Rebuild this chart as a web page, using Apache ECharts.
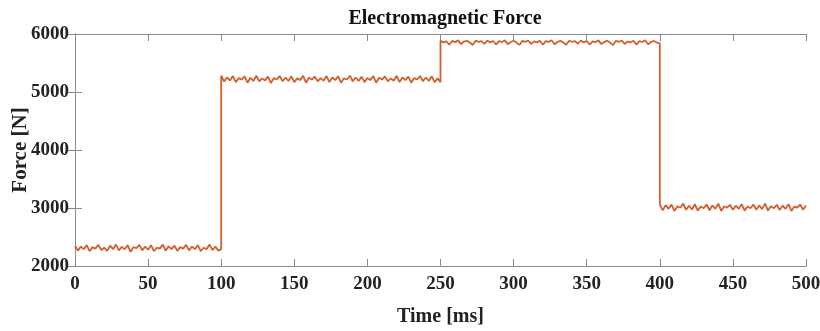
<!DOCTYPE html>
<html>
<head>
<meta charset="utf-8">
<script src="https://cdn.jsdelivr.net/npm/echarts@6/dist/echarts.min.js"></script>
<style>html,body{margin:0;padding:0;background:#fff}#c{width:820px;height:331px}</style>
</head>
<body>
<div id="c"></div>
<script>
const xTicks = [0,50,100,150,200,250,300,350,400,450,500];
const yTicks = [2000,3000,4000,5000,6000];
// segment boundaries (ms)
const segBounds = [[0,100],[100,250],[250,400],[400,500]];
// Force values (N) per segment, equally spaced within each segment
const seg1 = [2350,2265,2335,2290,2360,2255,2325,2300,2365,2275,2315,2260,2350,2290,2370,2270,2330,2290,2360,2245,2325,2310,2365,2270,2335,2280,2360,2255,2315,2300,2370,2265,2340,2290,2350,2260,2325,2300,2365,2270,2335,2290,2360,2255,2315,2290,2370,2275,2335,2265,2290];
const seg2 = [5280,5180,5250,5200,5275,5170,5240,5215,5270,5160,5245,5190,5280,5185,5235,5200,5265,5155,5240,5215,5275,5185,5250,5190,5270,5170,5235,5205,5280,5160,5245,5215,5265,5185,5240,5195,5275,5170,5250,5205,5270,5160,5235,5215,5280,5185,5250,5190,5265,5170,5240,5205,5275,5160,5245,5215,5270,5185,5235,5195,5280,5170,5250,5205,5265,5160,5240,5215,5275,5185,5250,5190,5270,5170,5235,5170];
const seg3 = [5885,5855,5875,5815,5880,5860,5890,5825,5870,5882,5855,5810,5885,5865,5878,5830,5888,5855,5880,5818,5876,5862,5890,5825,5862,5884,5852,5812,5882,5866,5888,5830,5872,5856,5885,5815,5878,5864,5892,5822,5862,5882,5854,5815,5884,5866,5878,5832,5888,5855,5880,5818,5874,5862,5890,5826,5860,5885,5852,5810,5882,5866,5886,5828,5870,5856,5884,5818,5876,5862,5892,5824,5862,5880,5852,5840];
const seg4 = [3065,2960,3050,2985,3060,2950,3030,3005,3075,2970,3040,2975,3065,2955,3025,2995,3060,2960,3045,2985,3075,2950,3030,3005,3055,2970,3040,2985,3065,2955,3025,2995,3060,2970,3045,2980,3075,2955,3030,2995,3055,2965,3040,2985,3065,2950,3025,3005,3060,2970,3045];

const segs = [seg1, seg2, seg3, seg4];
const data = [];
segs.forEach((s, k) => {
  const [a, b] = segBounds[k];
  s.forEach((v, i) => data.push([a + i * (b - a) / (s.length - 1), v]));
});

const FONT = 'Liberation Serif';
const axisCol = '#8a8a8a';
const chart = echarts.init(document.getElementById('c'), null, {renderer: 'canvas'});
const tickStyle = {show: true, inside: true, length: 7, lineStyle: {color: axisCol, width: 1}};
chart.setOption({
  animation: false,
  backgroundColor: '#fff',
  title: {
    text: 'Electromagnetic Force', left: 440, top: 4, textAlign: 'center',
    textStyle: {fontFamily: FONT, fontWeight: 'bold', fontSize: 20, color: '#111'}
  },
  grid: {left: 75, right: 14, top: 34, bottom: 65, containLabel: false, outerBoundsMode: 'none'},
  xAxis: [{
    type: 'value', min: 0, max: 500, interval: 50,
    name: 'Time [ms]', nameLocation: 'middle', nameGap: 41, nameMoveOverlap: false,
    nameTextStyle: {fontFamily: FONT, fontWeight: 'bold', fontSize: 20, color: '#222'},
    axisLine: {show: true, lineStyle: {color: axisCol, width: 1}},
    axisTick: tickStyle, splitLine: {show: false},
    axisLabel: {fontFamily: FONT, fontWeight: 'bold', fontSize: 19, color: '#222', margin: 9,
      formatter: v => xTicks.includes(v) ? String(v) : ''}
  }, {
    type: 'value', min: 0, max: 500, interval: 50, position: 'top',
    axisLine: {show: true, lineStyle: {color: axisCol, width: 1}},
    axisTick: tickStyle, axisLabel: {show: false}, splitLine: {show: false}
  }],
  yAxis: [{
    type: 'value', min: 2000, max: 6000, interval: 1000,
    name: 'Force [N]', nameLocation: 'middle', nameGap: 44, nameMoveOverlap: false,
    nameTextStyle: {fontFamily: FONT, fontWeight: 'bold', fontSize: 21, color: '#222'},
    axisLine: {show: true, lineStyle: {color: axisCol, width: 1}},
    axisTick: tickStyle, splitLine: {show: false},
    axisLabel: {fontFamily: FONT, fontWeight: 'bold', fontSize: 19, color: '#222', margin: 6,
      formatter: v => yTicks.includes(v) ? String(v) : ''}
  }, {
    type: 'value', min: 2000, max: 6000, interval: 1000, position: 'right',
    axisLine: {show: true, lineStyle: {color: axisCol, width: 1}},
    axisTick: tickStyle, axisLabel: {show: false}, splitLine: {show: false}
  }],
  series: [{
    type: 'line', data: data, xAxisIndex: 0, yAxisIndex: 0,
    showSymbol: false, symbol: 'none',
    lineStyle: {color: '#D2602A', width: 1.8}
  }]
});
</script>
</body>
</html>
